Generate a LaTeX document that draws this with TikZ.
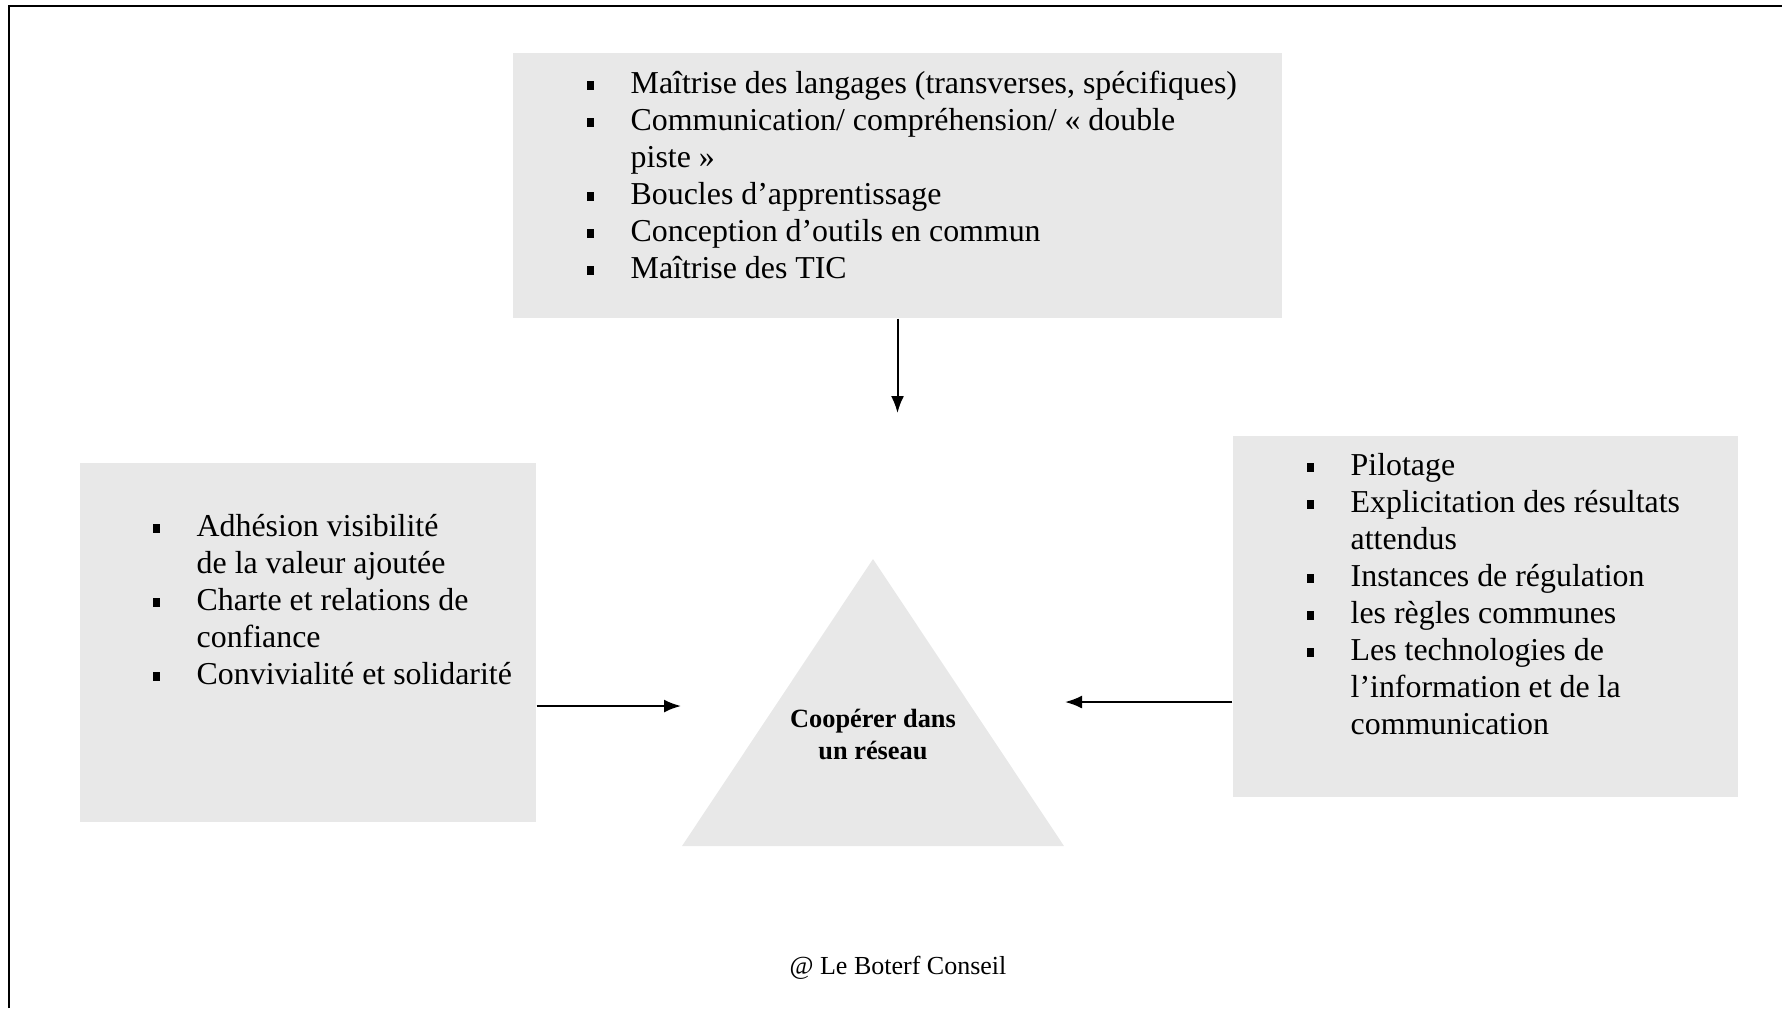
\documentclass[tikz,border=0pt]{standalone}
\usepackage{fontspec}
\setmainfont{Liberation Serif}
\usetikzlibrary{arrows.meta,positioning}
\definecolor{boxgray}{RGB}{232,232,232}
\newcommand{\puce}{\makebox[4.4mm][l]{\rule[1pt]{2.2pt}{2.3pt}}}
\newcommand{\suite}{\hspace*{4.4mm}}

\begin{document}
\begin{tikzpicture}[x=0.1mm, y=-0.1mm,
  greybox/.style={fill=boxgray, draw=none, inner sep=0pt},
  liste/.style={inner sep=0pt, anchor=base west, font=\fontsize{9.07}{10.53}\selectfont},
  fleche/.style={-{Latex[length=1.7mm, width=1.3mm]}, line width=0.2mm}]
  \useasboundingbox (0,0) rectangle (1782,1008);
  \draw[line width=0.2mm] (9,1008) -- (9,6) -- (1782,6);

  \node[greybox, minimum width=76.9mm, minimum height=26.5mm] (tbox) at (897.5,185.5) {};
  \node[greybox, minimum width=45.6mm, minimum height=35.9mm] (lbox) at (308,642.5) {};
  \node[greybox, minimum width=50.5mm, minimum height=36.1mm] (rbox) at (1485.5,616.5) {};

  \coordinate (apex) at (873,559);
  \coordinate (baseL) at (682,846);
  \coordinate (baseR) at (1064,846);
  \fill[boxgray] (apex) -- (baseR) -- (baseL) -- cycle;
  \node[align=center, inner sep=0pt, font=\fontsize{7.5}{9.1}\selectfont\bfseries] (coop) at (873,734)
    {Coopérer dans\\un réseau};

  \node[liste] (tlist) at (586,93) {\begin{tabular}[t]{@{}l@{}}
    \puce Maîtrise des langages (transverses, spécifiques)\\
    \puce Communication/ compréhension/ « double\\
    \suite piste »\\
    \puce Boucles d’apprentissage\\
    \puce Conception d’outils en commun\\
    \puce Maîtrise des TIC
  \end{tabular}};
  \node[liste] (llist) at (152,536) {\begin{tabular}[t]{@{}l@{}}
    \puce Adhésion visibilité\\
    \suite de la valeur ajoutée\\
    \puce Charte et relations de\\
    \suite confiance\\
    \puce Convivialité et solidarité
  \end{tabular}};
  \node[liste] (rlist) at (1306,475) {\begin{tabular}[t]{@{}l@{}}
    \puce Pilotage\\
    \puce Explicitation des résultats\\
    \suite attendus\\
    \puce Instances de régulation\\
    \puce les règles communes\\
    \puce Les technologies de\\
    \suite l’information et de la\\
    \suite communication
  \end{tabular}};

  \coordinate (tipT) at (897.5,413);
  \coordinate (tipL) at (681,706);
  \coordinate (tipR) at (1065,702);
  \draw[fleche] (tbox.south) -- (tipT);
  \draw[fleche] (lbox.east |- tipL) -- (tipL);
  \draw[fleche] (rbox.west |- tipR) -- (tipR);

  \node[inner sep=0pt, font=\fontsize{7.4}{9}\selectfont] (credit) at (898,968) {@ Le Boterf Conseil};
\end{tikzpicture}
\end{document}
